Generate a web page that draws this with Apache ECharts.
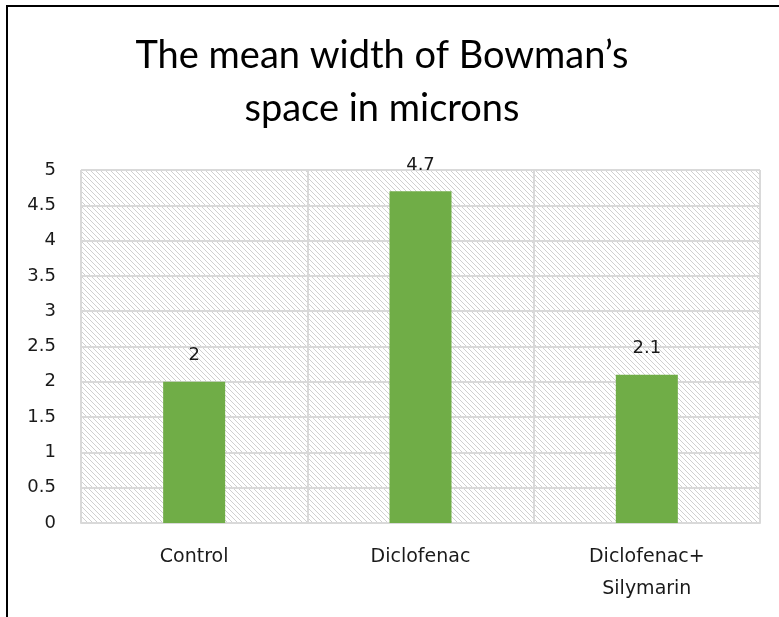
<!DOCTYPE html>
<html><head><meta charset="utf-8">
<script src="https://cdn.jsdelivr.net/npm/echarts@6/dist/echarts.min.js"></script>
<style>html,body{margin:0;padding:0;background:#fff}#c{width:779px;height:617px}</style>
</head><body><div id="c"></div>
<script>
const titleText = "The mean width of Bowman’s\nspace in microns";
const categories = ["Control", "Diclofenac", "Diclofenac+\nSilymarin"];
const meanWidth = [2, 4.7, 2.1];
const yTicks = { min: 0, max: 5, interval: 0.5 };

function hatch() {
  const s = 5;
  const cv = document.createElement('canvas');
  cv.width = s; cv.height = s;
  const ctx = cv.getContext('2d');
  ctx.fillStyle = '#ffffff';
  ctx.fillRect(0, 0, s, s);
  ctx.strokeStyle = '#d0d0d0';
  ctx.lineWidth = 1;
  ctx.beginPath();
  ctx.moveTo(-1, -1); ctx.lineTo(s + 1, s + 1);
  ctx.moveTo(-1, s - 1); ctx.lineTo(1, s + 1);
  ctx.moveTo(s - 1, -1); ctx.lineTo(s + 1, 1);
  ctx.stroke();
  return cv;
}

const chart = echarts.init(document.getElementById('c'), null, { renderer: 'canvas' });
chart.setOption({
  animation: false,
  backgroundColor: '#ffffff',
  title: {
    text: titleText,
    left: 377, top: 24, textAlign: 'center',
    textStyle: { fontFamily: 'Lato', fontSize: 38, fontWeight: 'normal', color: '#000', lineHeight: 53 }
  },
  grid: {
    left: 81, right: 19, top: 170, bottom: 94,
    show: true, borderWidth: 0,
    backgroundColor: { image: hatch(), repeat: 'repeat' }
  },
  xAxis: {
    type: 'category', data: categories,
    axisLine: { show: true, lineStyle: { color: '#d9d9d9', width: 2 } },
    axisTick: { show: false },
    splitLine: { show: true, lineStyle: { color: '#d9d9d9', width: 2 } },
    axisLabel: { interval: 0, margin: 18, fontFamily: 'DejaVu Sans', fontSize: 19, color: '#1a1a1a', lineHeight: 32 },
    boundaryGap: true
  },
  yAxis: {
    type: 'value', min: yTicks.min, max: yTicks.max, interval: yTicks.interval,
    axisLine: { show: false }, axisTick: { show: false },
    splitLine: { show: true, lineStyle: { color: '#d9d9d9', width: 2 } },
    axisLabel: { margin: 25, fontFamily: 'DejaVu Sans', fontSize: 18, color: '#1a1a1a' }
  },
  series: [{
    type: 'bar', data: meanWidth, barWidth: 62,
    itemStyle: { color: '#70ad47' },
    label: { show: true, position: 'top', distance: 17, fontFamily: 'DejaVu Sans', fontSize: 18, color: '#1a1a1a' }
  }],
  graphic: [
    { type: 'line', shape: { x1: 7, y1: 6, x2: 7, y2: 617 }, style: { stroke: '#000', lineWidth: 2 } },
    { type: 'line', shape: { x1: 6, y1: 6, x2: 779, y2: 6 }, style: { stroke: '#000', lineWidth: 2 } }
  ]
});
</script></body></html>
